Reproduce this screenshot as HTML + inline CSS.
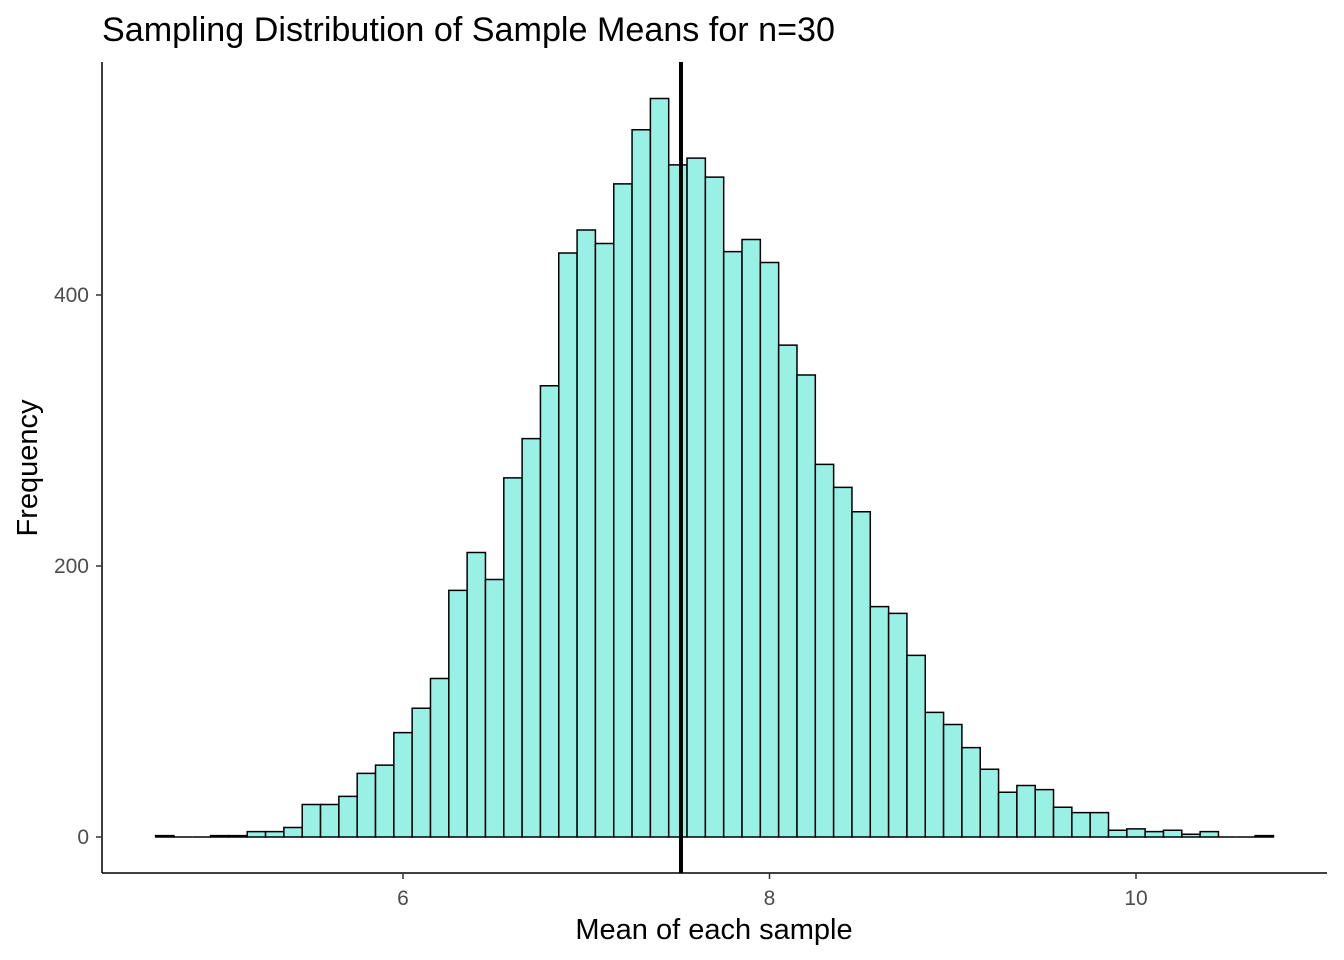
<!DOCTYPE html>
<html><head><meta charset="utf-8"><style>
body{margin:0;background:#fff;}
svg{display:block;font-family:"Liberation Sans",sans-serif;}
</style></head><body>
<svg id="chart" width="1344" height="960" viewBox="0 0 1344 960">
<text x="102" y="41" font-size="34" textLength="733" lengthAdjust="spacingAndGlyphs" fill="#000">Sampling Distribution of Sample Means for n=30</text>
<g id="bars"></g>
<g id="axes"></g>
<text x="714" y="939" font-size="29" text-anchor="middle" fill="#000">Mean of each sample</text>
<text transform="translate(37,468) rotate(-90)" font-size="29" text-anchor="middle" fill="#000">Frequency</text>
</svg>
<script>
const binStart = 4.65;
const binWidth = 0.1;
const counts = [1,0,0,1,1,4,4,7,24,24,30,47,53,77,95,117,182,210,190,265,294,333,431,448,438,482,522,545,496,501,487,432,441,424,363,341,275,258,240,170,165,134,92,83,66,50,33,38,35,22,18,18,5,6,4,5,2,4,0,0,1];
const meanValue = 7.517;
const xTicks = [6,8,10];
const yTicks = [0,200,400];

const NS='http://www.w3.org/2000/svg';
const xs = v => 403 + (v-6)*183.25;
const ys = v => 837 - v*1.355;
const bars = document.getElementById('bars');
const axes = document.getElementById('axes');
function mk(tag, attrs, parent){const e=document.createElementNS(NS,tag);for(const k in attrs)e.setAttribute(k,attrs[k]);parent.appendChild(e);return e;}

counts.forEach((c,i)=>{
  const x0 = xs(binStart+i*binWidth), x1 = xs(binStart+(i+1)*binWidth);
  const y0 = ys(0), y1 = ys(c);
  const r = mk('path',{d:`M${x0},${y0}L${x0},${y1}L${x1},${y1}L${x1},${y0}Z`,fill:'#99F1E6',stroke:'#000','stroke-width':1.5},bars);
  
  
});
const ml = mk('line',{x1:xs(meanValue),x2:xs(meanValue),y1:62,y2:873,stroke:'#000','stroke-width':4},bars);



const xa = mk('line',{x1:102,x2:1327,y1:873,y2:873,stroke:'#000','stroke-width':1.5},axes);


const ya = mk('line',{x1:102,x2:102,y1:62,y2:873,stroke:'#000','stroke-width':1.5},axes);



xTicks.forEach(t=>{
  mk('line',{x1:xs(t),x2:xs(t),y1:873,y2:879,stroke:'#333','stroke-width':1.5},axes);
  const tx = mk('text',{x:xs(t),y:905,'font-size':21,'text-anchor':'middle',fill:'#4d4d4d'},axes);
  tx.textContent=t;
  
  
});
yTicks.forEach(t=>{
  mk('line',{x1:96,x2:102,y1:ys(t),y2:ys(t),stroke:'#333','stroke-width':1.5},axes);
  const tx = mk('text',{x:89,y:ys(t)+7,'font-size':21,'text-anchor':'end',fill:'#4d4d4d'},axes);
  tx.textContent=t;
  
  
});
</script>
</body></html>
